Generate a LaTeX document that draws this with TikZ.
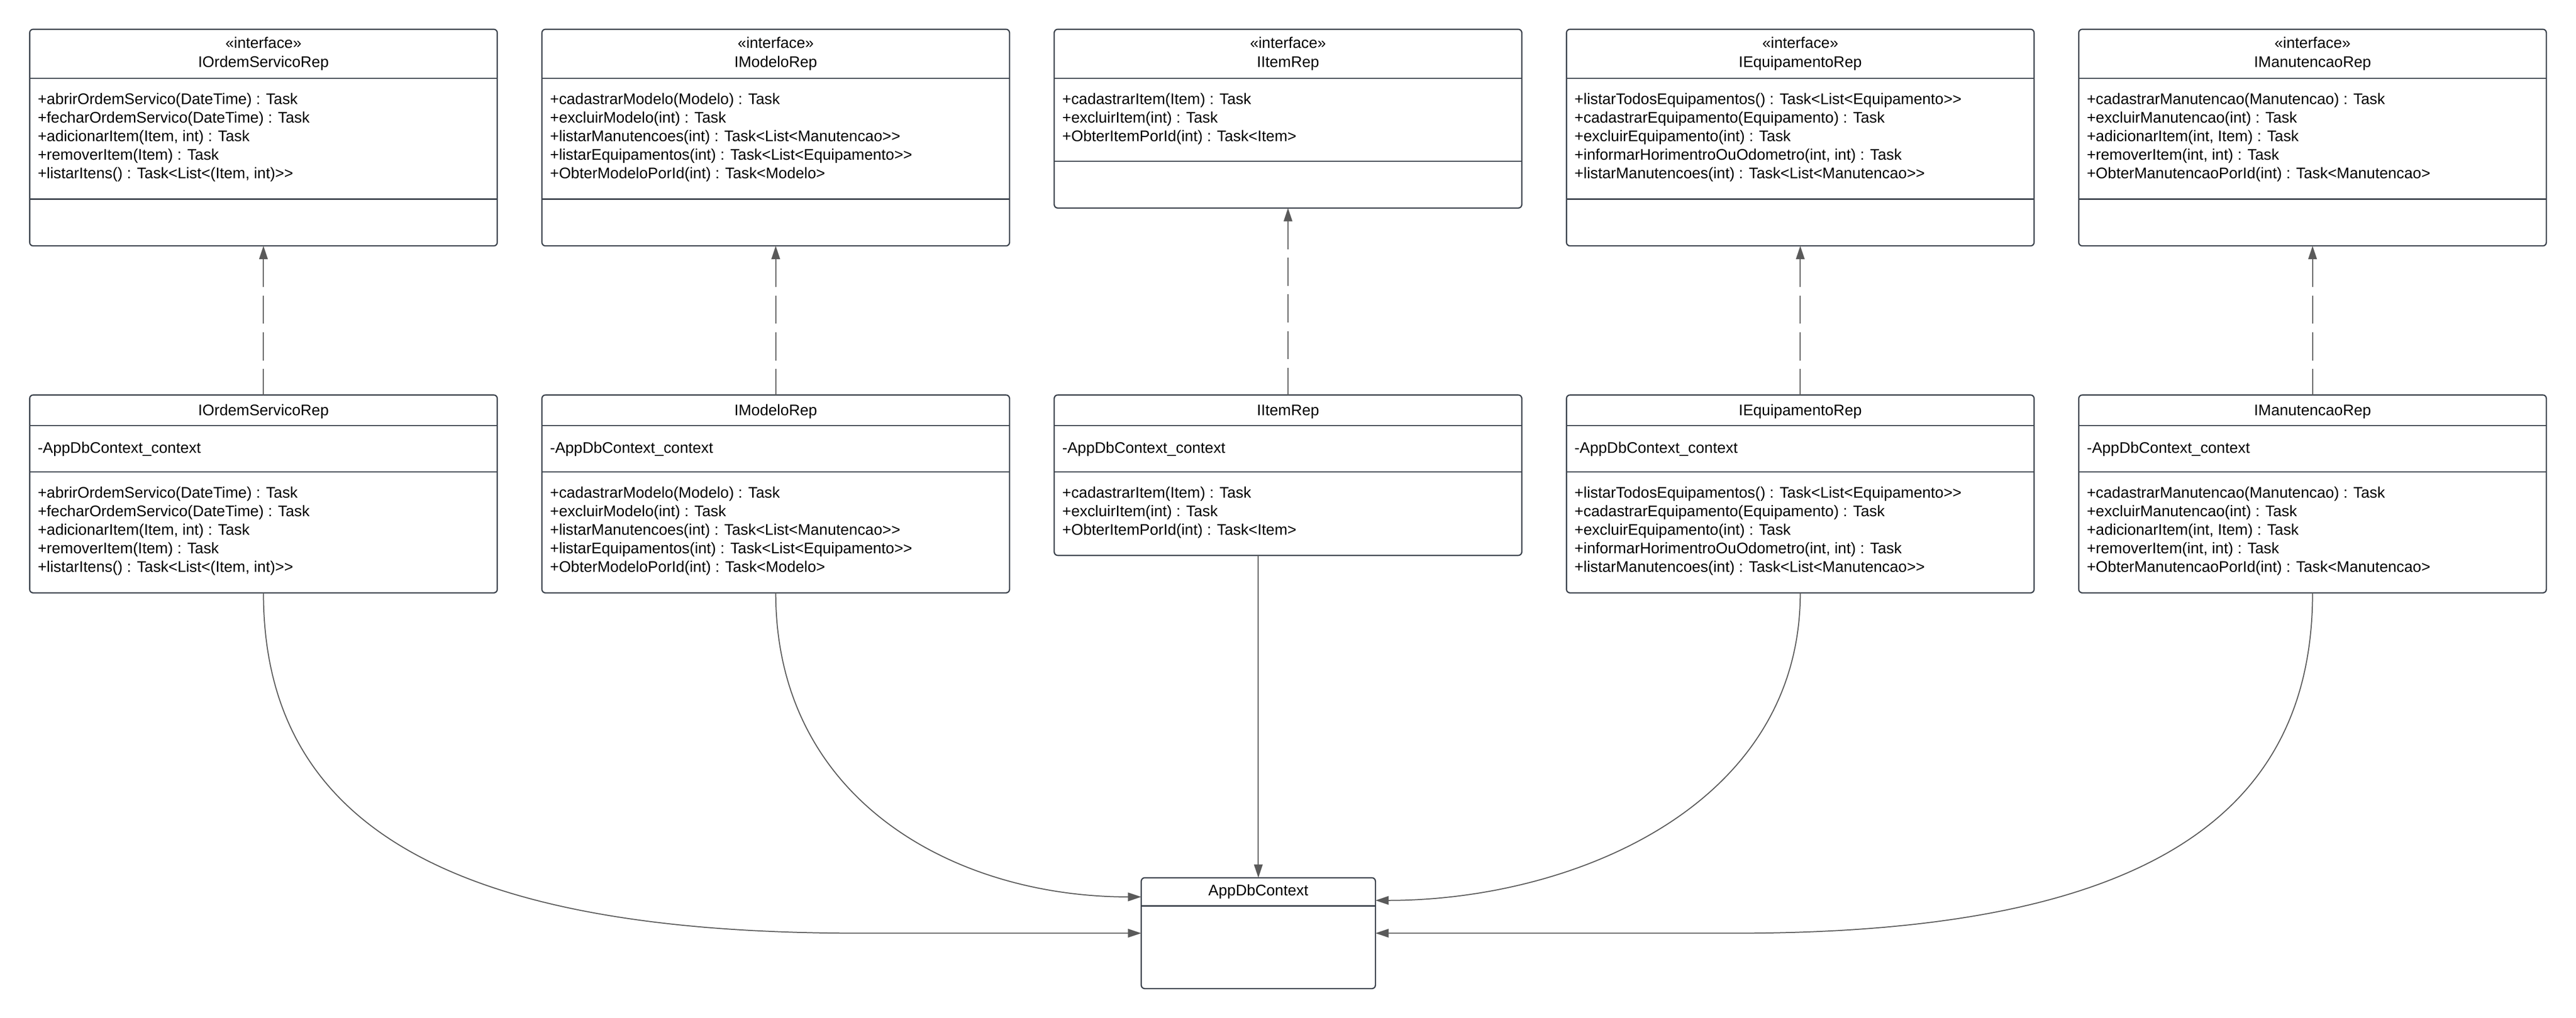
\documentclass[tikz,border=0pt]{standalone}
\usepackage{fontspec}
\setmainfont{Liberation Sans}
\usetikzlibrary{arrows.meta,calc}
\definecolor{clsline}{HTML}{3A414B}
\definecolor{conn}{HTML}{5A5A5A}
\newcommand{\umlfont}{\fontsize{11.2}{13.5}\selectfont}
\newcommand{\dgt}{>\kern0pt>}
\newcommand{\opsOrdem}{+abrirOrdemServico(DateTime) : Task\\+fecharOrdemServico(DateTime) : Task\\+adicionarItem(Item, int) : Task\\+removerItem(Item) : Task\\+listarItens() : Task<\kern0pt List<\kern0pt(Item, int)\dgt}
\newcommand{\opsModelo}{+cadastrarModelo(Modelo) : Task\\+excluirModelo(int) : Task\\+listarManutencoes(int) : Task<\kern0pt List<\kern0pt Manutencao\dgt\\+listarEquipamentos(int) : Task<\kern0pt List<\kern0pt Equipamento\dgt\\+ObterModeloPorId(int) : Task<Modelo>}
\newcommand{\opsItem}{+cadastrarItem(Item) : Task\\+excluirItem(int) : Task\\+ObterItemPorId(int) : Task<Item>}
\newcommand{\opsEquip}{+listarTodosEquipamentos() : Task<\kern0pt List<\kern0pt Equipamento\dgt\\+cadastrarEquipamento(Equipamento) : Task\\+excluirEquipamento(int) : Task\\+informarHorimentroOuOdometro(int, int) : Task\\+listarManutencoes(int) : Task<\kern0pt List<\kern0pt Manutencao\dgt}
\newcommand{\opsManut}{+cadastrarManutencao(Manutencao) : Task\\+excluirManutencao(int) : Task\\+adicionarItem(int, Item) : Task\\+removerItem(int, int) : Task\\+ObterManutencaoPorId(int) : Task<Manutencao>}
\tikzset{
  cls/.style={draw=clsline, line width=0.9pt, rounded corners=0.09cm, fill=white, anchor=north west, minimum width=11.98cm, inner sep=0pt, outer sep=0pt},
  sep/.style={draw=clsline, line width=0.9pt},
  hdr/.style={font=\umlfont, inner sep=0pt, anchor=base},
  attr/.style={font=\umlfont, inner sep=0pt, anchor=base west},
  ops/.style={font=\umlfont, inner sep=0pt, anchor=north west, align=left, execute at begin node=\strut},
  dep/.style={draw=conn, line width=0.75pt, -{Triangle[length=3.4mm,width=2.2mm]}},
  real/.style={draw=conn, line width=0.75pt, {Triangle[length=3.4mm,width=2.2mm]}-, dash pattern=on 7.2mm off 2.2mm},
}

\begin{document}
\begin{tikzpicture}
  \fill[white] (0,0) rectangle (66,-26.08);
  \useasboundingbox (0,0) rectangle (66,-26.08);

  % interfaces
  \node[cls, minimum height=5.55cm] (ifOrdem) at (0.76,-0.75) {};
  \node[cls, minimum height=5.55cm] (ifModelo) at (13.885,-0.75) {};
  \node[cls, minimum height=4.58cm] (ifItem) at (27.01,-0.75) {};
  \node[cls, minimum height=5.55cm] (ifEquip) at (40.135,-0.75) {};
  \node[cls, minimum height=5.55cm] (ifManut) at (53.26,-0.75) {};

  % repositories
  \node[cls, minimum height=5.07cm] (repOrdem) at (0.76,-10.12) {};
  \node[cls, minimum height=5.07cm] (repModelo) at (13.885,-10.12) {};
  \node[cls, minimum height=4.11cm] (repItem) at (27.01,-10.12) {};
  \node[cls, minimum height=5.07cm] (repEquip) at (40.135,-10.12) {};
  \node[cls, minimum height=5.07cm] (repManut) at (53.26,-10.12) {};

  \node[cls, minimum width=6cm, minimum height=2.84cm] (ctx) at (29.24,-22.49) {};

  \foreach \n in {ifOrdem,ifModelo,ifItem,ifEquip,ifManut}{
    \draw[sep] ([yshift=-1.26cm]\n.north west) -- ([yshift=-1.26cm]\n.north east);
    \draw[sep] ([yshift=1.2cm]\n.south west) -- ([yshift=1.2cm]\n.south east);
    \node[hdr] (\n-st) at ([yshift=-0.49cm]\n.north) {«interface»};
  }
  \foreach \n in {repOrdem,repModelo,repItem,repEquip,repManut}{
    \draw[sep] ([yshift=-0.78cm]\n.north west) -- ([yshift=-0.78cm]\n.north east);
    \draw[sep] ([yshift=-1.97cm]\n.north west) -- ([yshift=-1.97cm]\n.north east);
    \node[attr] (\n-at) at ([xshift=0.2cm,yshift=-1.49cm]\n.north west) {-AppDbContext\_context};
  }
  \draw[sep] ([yshift=-0.72cm]ctx.north west) -- ([yshift=-0.72cm]ctx.north east);

  % names
  \node[hdr] (ifOrdem-nm) at ([yshift=-0.97cm]ifOrdem.north) {IOrdemServicoRep};
  \node[hdr] (ifModelo-nm) at ([yshift=-0.97cm]ifModelo.north) {IModeloRep};
  \node[hdr] (ifItem-nm) at ([yshift=-0.97cm]ifItem.north) {IItemRep};
  \node[hdr] (ifEquip-nm) at ([yshift=-0.97cm]ifEquip.north) {IEquipamentoRep};
  \node[hdr] (ifManut-nm) at ([yshift=-0.97cm]ifManut.north) {IManutencaoRep};
  \node[hdr] (repOrdem-nm) at ([yshift=-0.52cm]repOrdem.north) {IOrdemServicoRep};
  \node[hdr] (repModelo-nm) at ([yshift=-0.52cm]repModelo.north) {IModeloRep};
  \node[hdr] (repItem-nm) at ([yshift=-0.52cm]repItem.north) {IItemRep};
  \node[hdr] (repEquip-nm) at ([yshift=-0.52cm]repEquip.north) {IEquipamentoRep};
  \node[hdr] (repManut-nm) at ([yshift=-0.52cm]repManut.north) {IManutencaoRep};
  \node[hdr] (ctx-nm) at ([yshift=-0.46cm]ctx.north) {AppDbContext};

  % operations
  \node[ops] (ifOrdem-op) at ([xshift=0.2cm,yshift=-1.637cm]ifOrdem.north west) {\opsOrdem};
  \node[ops] (ifModelo-op) at ([xshift=0.2cm,yshift=-1.637cm]ifModelo.north west) {\opsModelo};
  \node[ops] (ifItem-op) at ([xshift=0.2cm,yshift=-1.637cm]ifItem.north west) {\opsItem};
  \node[ops] (ifEquip-op) at ([xshift=0.2cm,yshift=-1.637cm]ifEquip.north west) {\opsEquip};
  \node[ops] (ifManut-op) at ([xshift=0.2cm,yshift=-1.637cm]ifManut.north west) {\opsManut};
  \node[ops] (repOrdem-op) at ([xshift=0.2cm,yshift=-2.347cm]repOrdem.north west) {\opsOrdem};
  \node[ops] (repModelo-op) at ([xshift=0.2cm,yshift=-2.347cm]repModelo.north west) {\opsModelo};
  \node[ops] (repItem-op) at ([xshift=0.2cm,yshift=-2.347cm]repItem.north west) {\opsItem};
  \node[ops] (repEquip-op) at ([xshift=0.2cm,yshift=-2.347cm]repEquip.north west) {\opsEquip};
  \node[ops] (repManut-op) at ([xshift=0.2cm,yshift=-2.347cm]repManut.north west) {\opsManut};

  % realizations
  \foreach \n in {Ordem,Modelo,Item,Equip,Manut}
    \draw[real] (if\n.south) -- (rep\n.north);

  % usages of the context
  \coordinate (inOrdem) at ($(ctx.west)+(-7.26,0)$);
  \coordinate (inModelo) at ([yshift=-0.49cm]ctx.north west);
  \coordinate (inEquip) at ([yshift=-0.58cm]ctx.north east);
  \coordinate (inManut) at ($(ctx.east)+(9.25,0)$);
  \draw[dep] (repOrdem.south) .. controls +(0,-6.2) and +(-10,0) .. (inOrdem) -- (ctx.west);
  \draw[dep] (repModelo.south) .. controls +(0,-5.3) and +(-4.8,0) .. (inModelo);
  \draw[dep] (repItem.south -| ctx.north) -- (ctx.north);
  \draw[dep] (repEquip.south) .. controls +(0,-5.5) and +(5,0) .. (inEquip);
  \draw[dep] (repManut.south) .. controls +(0,-6) and +(10,0) .. (inManut) -- (ctx.east);
\end{tikzpicture}
\end{document}
